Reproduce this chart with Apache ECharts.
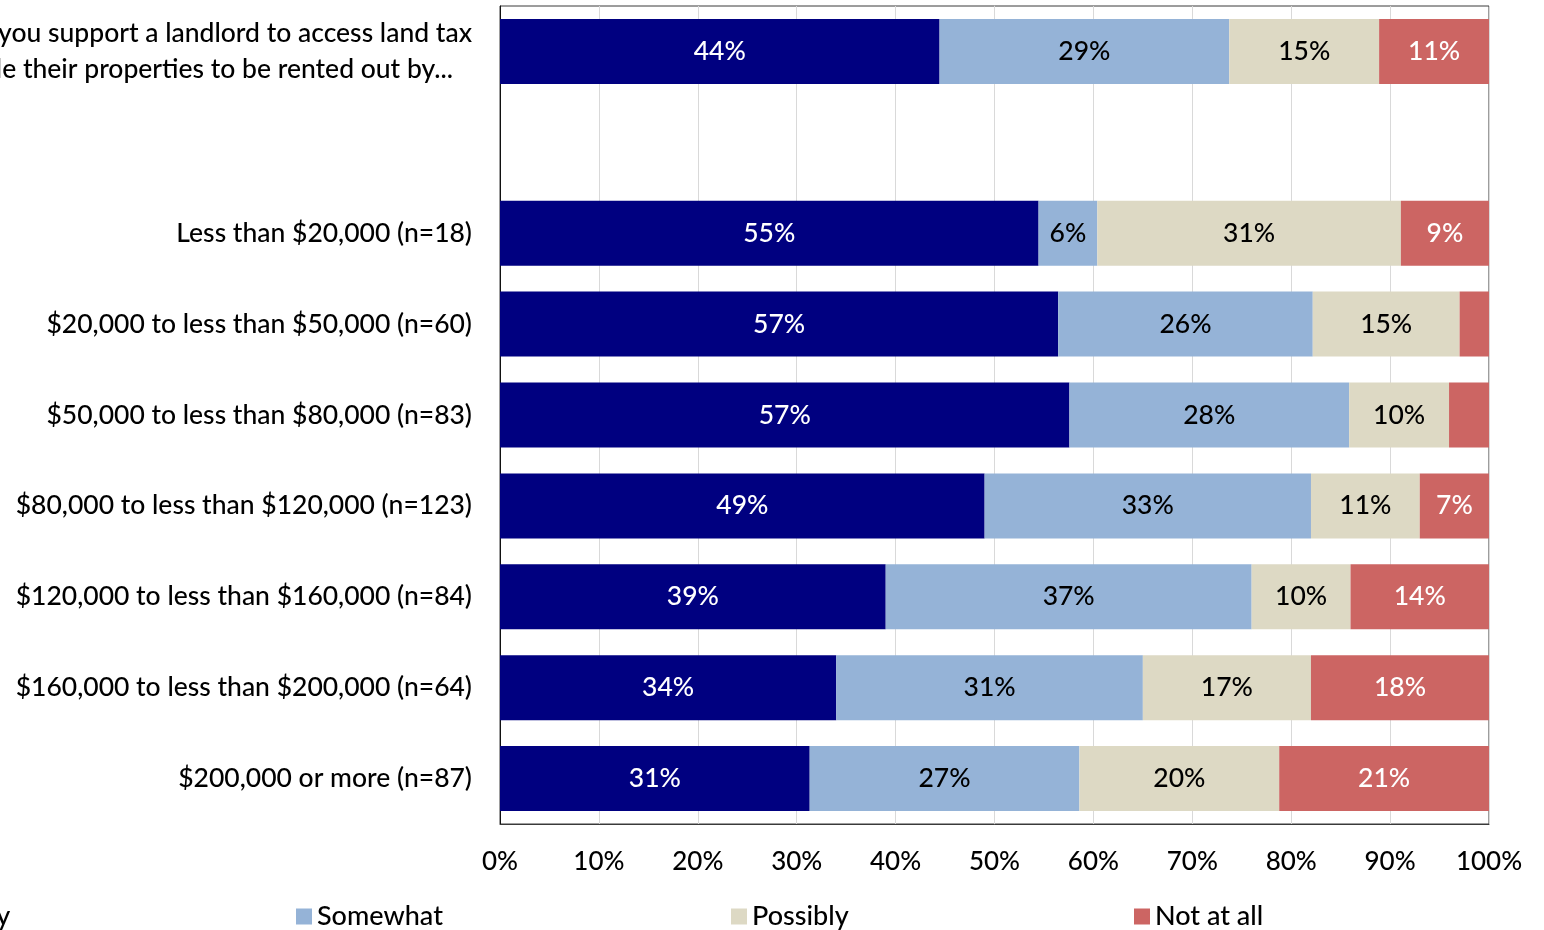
<!DOCTYPE html>
<html>
<head>
<meta charset="utf-8">
<title>Support for landlord land tax access by household income</title>
<script src="https://cdn.jsdelivr.net/npm/echarts@6/dist/echarts.min.js"></script>
<style>
  html, body { margin: 0; padding: 0; background: #ffffff; }
  #chart { width: 1544px; height: 930px; }
</style>
</head>
<body>
<div id="chart"></div>
<script>
// Rows from top to bottom: the overall question row, a blank spacer row, then income bands.
const categories = [
  'Would you support a landlord to access land tax',
  '',
  'Less than $20,000 (n=18)',
  '$20,000 to less than $50,000 (n=60)',
  '$50,000 to less than $80,000 (n=83)',
  '$80,000 to less than $120,000 (n=123)',
  '$120,000 to less than $160,000 (n=84)',
  '$160,000 to less than $200,000 (n=64)',
  '$200,000 or more (n=87)'
];
const questionSecondLine = 'concessions to enable their properties to be rented out by...';

const seriesNames = ['Definitely', 'Somewhat', 'Possibly', 'Not at all'];

// Percentages per response, one entry per row (null = blank row)
const definitely = [44, null, 55, 57, 57, 49, 39, 34, 31];
const somewhat   = [29, null, 6, 26, 28, 33, 37, 31, 27];
const possibly   = [15, null, 31, 15, 10, 11, 10, 17, 20];
const notAtAll   = [11, null, 9, 3, 4, 7, 14, 18, 21];

const xTicks = [0, 10, 20, 30, 40, 50, 60, 70, 80, 90, 100];

const colors = ['#000080', '#95B3D7', '#DDD9C4', '#CC6563'];
const labelColors = ['#ffffff', '#000000', '#000000', '#ffffff'];
const FONT = 'Lato';
const WEIGHT = 500;
const TEXT = '#000000';

const rawSeries = [definitely, somewhat, possibly, notAtAll];

// 100% stacked: each row is scaled to its own total, labels keep the stated percentage.
const rowTotals = categories.map((_, i) =>
  rawSeries.reduce((s, arr) => s + (arr[i] == null ? 0 : arr[i]), 0));

const series = rawSeries.map((arr, k) => ({
  name: seriesNames[k],
  type: 'bar',
  stack: 'total',
  barCategoryGap: '28.5%',
  itemStyle: { color: colors[k] },
  label: {
    show: true,
    position: 'inside',
    fontFamily: FONT,
    fontWeight: WEIGHT,
    fontSize: 26.5,
    color: labelColors[k],
    formatter: p => {
      const v = arr[p.dataIndex];
      return (v == null || v < 5) ? '' : v + '%';
    }
  },
  data: arr.map((v, i) => v == null ? null : v / rowTotals[i] * 100)
}));

const legendBase = {
  orient: 'horizontal',
  top: 903,
  padding: 0,
  itemWidth: 16,
  itemHeight: 16,
  icon: 'rect',
  selectedMode: false,
  textStyle: { fontFamily: FONT, fontWeight: WEIGHT, fontSize: 27, color: TEXT }
};
const legendLefts = [-127, 296, 731, 1134];

const chart = echarts.init(document.getElementById('chart'), null, { renderer: 'canvas' });
chart.setOption({
  animation: false,
  backgroundColor: '#ffffff',
  color: colors,
  grid: {
    left: 500, top: 6, width: 989, height: 818,
    show: true, borderColor: '#3a3a3a', borderWidth: 1, backgroundColor: 'transparent',
    containLabel: false,
    outerBoundsMode: 'none'
  },
  legend: seriesNames.map((n, k) => Object.assign({}, legendBase, { data: [n], left: legendLefts[k] })),
  xAxis: {
    type: 'value',
    min: xTicks[0],
    max: xTicks[xTicks.length - 1],
    interval: xTicks[1] - xTicks[0],
    axisLine: { show: true, lineStyle: { color: '#3a3a3a' } },
    axisTick: { show: false },
    splitLine: { show: true, lineStyle: { color: '#D9D9D9', width: 1 } },
    axisLabel: {
      fontFamily: FONT, fontWeight: WEIGHT, fontSize: 26, color: TEXT, margin: 25,
      formatter: '{value}%'
    }
  },
  yAxis: {
    type: 'category',
    inverse: true,
    data: categories,
    axisLine: { show: true, lineStyle: { color: '#111111' } },
    axisTick: { show: false },
    splitLine: { show: false },
    axisLabel: {
      fontFamily: FONT, fontWeight: WEIGHT, fontSize: 26.5, color: TEXT, margin: 28,
      align: 'right',
      formatter: (value, idx) => idx === 0
        ? '{q1|' + value + '}\n{q2|' + questionSecondLine + '}'
        : value,
      rich: {
        q1: { fontFamily: FONT, fontWeight: WEIGHT, fontSize: 26.5, color: TEXT, lineHeight: 36, align: 'right' },
        q2: { fontFamily: FONT, fontWeight: WEIGHT, fontSize: 26.5, color: TEXT, lineHeight: 36, align: 'right', padding: [0, 19, 0, 0] }
      }
    }
  },
  series: series
});
</script>
</body>
</html>
